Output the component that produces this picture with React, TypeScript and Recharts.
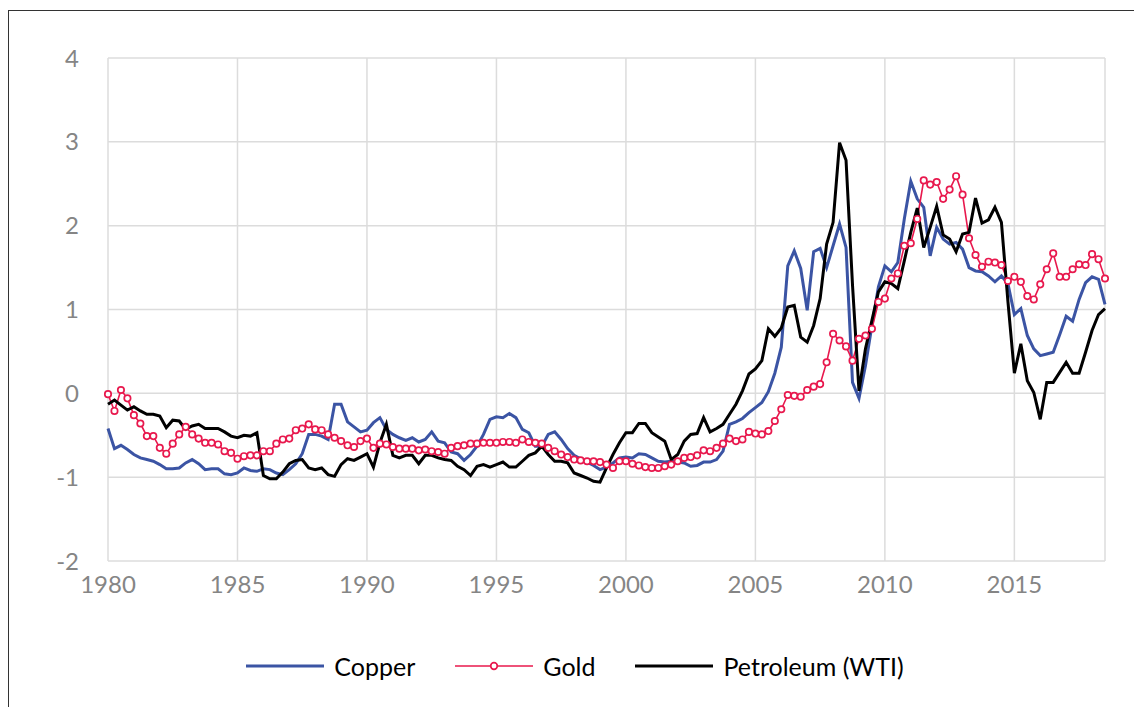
import { LineChart, Line, XAxis, YAxis, CartesianGrid, Legend } from "recharts";

// Quarterly index values, 1980 Q1 .. 2018 Q3
const copper = [
  -0.42, -0.66, -0.62, -0.67, -0.73, -0.77, -0.79, -0.81, -0.85, -0.90,
  -0.90, -0.89, -0.83, -0.79, -0.84, -0.91, -0.90, -0.90, -0.96, -0.97,
  -0.95, -0.89, -0.92, -0.93, -0.90, -0.91, -0.95, -0.97, -0.91, -0.84,
  -0.72, -0.49, -0.49, -0.51, -0.55, -0.13, -0.13, -0.34, -0.40, -0.46,
  -0.44, -0.35, -0.29, -0.43, -0.49, -0.53, -0.56, -0.53, -0.58, -0.55,
  -0.46, -0.57, -0.59, -0.70, -0.72, -0.80, -0.73, -0.63, -0.49, -0.31,
  -0.28, -0.29, -0.24, -0.29, -0.43, -0.47, -0.63, -0.63, -0.49, -0.46,
  -0.55, -0.66, -0.74, -0.78, -0.82, -0.86, -0.91, -0.88, -0.83, -0.77,
  -0.76, -0.77, -0.72, -0.73, -0.77, -0.81, -0.82, -0.81, -0.82, -0.83,
  -0.87, -0.86, -0.82, -0.82, -0.79, -0.69, -0.37, -0.34, -0.30, -0.23,
  -0.17, -0.11, 0.02, 0.24, 0.55, 1.52, 1.70, 1.49, 0.99, 1.69,
  1.73, 1.50, 1.76, 2.02, 1.74, 0.13, -0.06, 0.33, 0.81, 1.27,
  1.52, 1.45, 1.56, 2.08, 2.53, 2.32, 2.22, 1.64, 1.98, 1.84,
  1.78, 1.80, 1.72, 1.50, 1.46, 1.45, 1.40, 1.33, 1.40, 1.31,
  0.94, 1.01, 0.69, 0.53, 0.45, 0.47, 0.49, 0.70, 0.92, 0.86,
  1.12, 1.32, 1.39, 1.36, 1.06,
];

const gold = [
  -0.01, -0.21, 0.04, -0.06, -0.26, -0.36, -0.51, -0.51, -0.65, -0.72,
  -0.60, -0.49, -0.40, -0.49, -0.54, -0.59, -0.59, -0.61, -0.69, -0.71,
  -0.78, -0.75, -0.74, -0.74, -0.69, -0.69, -0.60, -0.55, -0.54, -0.44,
  -0.42, -0.37, -0.43, -0.44, -0.49, -0.53, -0.57, -0.62, -0.64, -0.57,
  -0.54, -0.65, -0.60, -0.61, -0.64, -0.66, -0.66, -0.66, -0.68, -0.67,
  -0.69, -0.70, -0.72, -0.65, -0.63, -0.62, -0.60, -0.60, -0.59, -0.59,
  -0.59, -0.58, -0.58, -0.59, -0.55, -0.58, -0.59, -0.60, -0.65, -0.69,
  -0.73, -0.76, -0.79, -0.80, -0.81, -0.81, -0.82, -0.85, -0.89, -0.81,
  -0.81, -0.84, -0.86, -0.88, -0.89, -0.89, -0.87, -0.85, -0.81, -0.77,
  -0.76, -0.74, -0.68, -0.69, -0.65, -0.60, -0.54, -0.57, -0.55, -0.46,
  -0.48, -0.49, -0.45, -0.33, -0.19, -0.02, -0.03, -0.04, 0.04, 0.08,
  0.11, 0.37, 0.71, 0.63, 0.56, 0.39, 0.65, 0.69, 0.77, 1.09,
  1.13, 1.37, 1.43, 1.76, 1.79, 2.08, 2.54, 2.49, 2.52, 2.32,
  2.43, 2.59, 2.37, 1.85, 1.65, 1.51, 1.57, 1.56, 1.53, 1.34,
  1.39, 1.33, 1.16, 1.12, 1.30, 1.48, 1.67, 1.39, 1.39, 1.48,
  1.54, 1.53, 1.66, 1.60, 1.37,
];

const petroleum = [
  -0.13, -0.08, -0.14, -0.20, -0.16, -0.21, -0.25, -0.25, -0.27, -0.41,
  -0.32, -0.33, -0.43, -0.39, -0.37, -0.42, -0.42, -0.42, -0.46, -0.51,
  -0.53, -0.50, -0.51, -0.47, -0.98, -1.02, -1.02, -0.94, -0.84, -0.80,
  -0.79, -0.89, -0.91, -0.89, -0.97, -0.99, -0.85, -0.78, -0.80, -0.76,
  -0.72, -0.88, -0.59, -0.37, -0.74, -0.77, -0.74, -0.74, -0.84, -0.74,
  -0.74, -0.77, -0.79, -0.80, -0.87, -0.91, -0.98, -0.87, -0.85, -0.88,
  -0.85, -0.82, -0.88, -0.88, -0.81, -0.74, -0.71, -0.63, -0.73, -0.81,
  -0.81, -0.83, -0.95, -0.98, -1.01, -1.05, -1.06, -0.89, -0.73, -0.59,
  -0.47, -0.47, -0.36, -0.36, -0.47, -0.52, -0.57, -0.79, -0.73, -0.57,
  -0.49, -0.48, -0.29, -0.46, -0.42, -0.37, -0.25, -0.13, 0.03, 0.23,
  0.29, 0.39, 0.77, 0.68, 0.78, 1.03, 1.05, 0.67, 0.61, 0.81,
  1.13, 1.78, 2.04, 2.99, 2.78, 1.29, 0.03, 0.53, 0.87, 1.21,
  1.33, 1.31, 1.25, 1.58, 1.92, 2.21, 1.74, 1.98, 2.23, 1.89,
  1.84, 1.69, 1.90, 1.92, 2.33, 2.03, 2.07, 2.22, 2.04, 1.10,
  0.24, 0.59, 0.15, 0.01, -0.31, 0.13, 0.13, 0.25, 0.37, 0.24,
  0.24, 0.49, 0.75, 0.94, 1.01,
];

const periods = copper.map((_, i) => 1980 + i / 4);
const xTicks = [1980, 1985, 1990, 1995, 2000, 2005, 2010, 2015];
const yTicks = [-2, -1, 0, 1, 2, 3, 4];

const COLORS = { copper: "#3b54a4", gold: "#e8184d", petroleum: "#000000" };
const FONT = "Lato, 'Open Sans', sans-serif";

const data = periods.map((t, i) => ({
  t,
  copper: copper[i],
  gold: gold[i],
  petroleum: petroleum[i],
}));

const TICK = { fontSize: 24, fill: "#858585", fontFamily: FONT };

const legendItems = [
  { key: "copper", label: "Copper", color: COLORS.copper, width: 3, marker: false },
  { key: "gold", label: "Gold", color: COLORS.gold, width: 1.6, marker: true },
  { key: "petroleum", label: "Petroleum (WTI)", color: COLORS.petroleum, width: 3, marker: false },
];

function LegendContent() {
  return (
    <div style={{ display: "flex", justifyContent: "center", gap: 40, fontFamily: FONT }}>
      {legendItems.map((it) => (
        <div key={it.key} style={{ display: "flex", alignItems: "center", gap: 10 }}>
          <svg width={78} height={20}>
            <line x1={0} x2={78} y1={10} y2={10} stroke={it.color} strokeWidth={it.width} />
            {it.marker && <circle cx={39} cy={10} r={3.3} fill="#fff" stroke={it.color} strokeWidth={1.7} />}
          </svg>
          <span style={{ fontSize: 25, color: "#000", lineHeight: "30px" }}>{it.label}</span>
        </div>
      ))}
    </div>
  );
}

export default function App() {
  return (
    <div style={{ position: "relative", width: 1134, height: 699, background: "#fff" }}>
      <div
        style={{
          position: "absolute", left: 0, top: 2, right: 0, bottom: 0,
          borderTop: "1.5px solid #333", borderLeft: "1.5px solid #333",
        }}
      />
      <LineChart
        width={1134}
        height={699}
        data={data}
        margin={{ top: 50, right: 37, left: 0, bottom: 106 }}
        style={{ position: "absolute", left: 0, top: 0 }}
      >
        <CartesianGrid stroke="#dcdcdc" strokeWidth={1.5} />
        <XAxis
          dataKey="t"
          type="number"
          domain={[1980, 2018.5]}
          ticks={xTicks}
          height={40}
          axisLine={false}
          tickLine={false}
          tickMargin={9}
          tick={TICK}
          interval={0}
        />
        <YAxis
          domain={[-2, 4]}
          ticks={yTicks}
          width={100}
          axisLine={false}
          tickLine={false}
          tickMargin={23}
          tick={TICK}
          interval={0}
        />
        <Legend
          verticalAlign="middle"
          content={() => <LegendContent />}
          wrapperStyle={{ top: 643, left: 0, width: 1134 }}
        />
        <Line dataKey="copper" name="Copper" stroke={COLORS.copper} strokeWidth={3}
          dot={false} isAnimationActive={false} />
        <Line dataKey="gold" name="Gold" stroke={COLORS.gold} strokeWidth={1.6}
          dot={{ r: 3.2, fill: "#fff", stroke: COLORS.gold, strokeWidth: 1.7 }} isAnimationActive={false} />
        <Line dataKey="petroleum" name="Petroleum (WTI)" stroke={COLORS.petroleum} strokeWidth={3}
          dot={false} isAnimationActive={false} />
      </LineChart>
    </div>
  );
}
